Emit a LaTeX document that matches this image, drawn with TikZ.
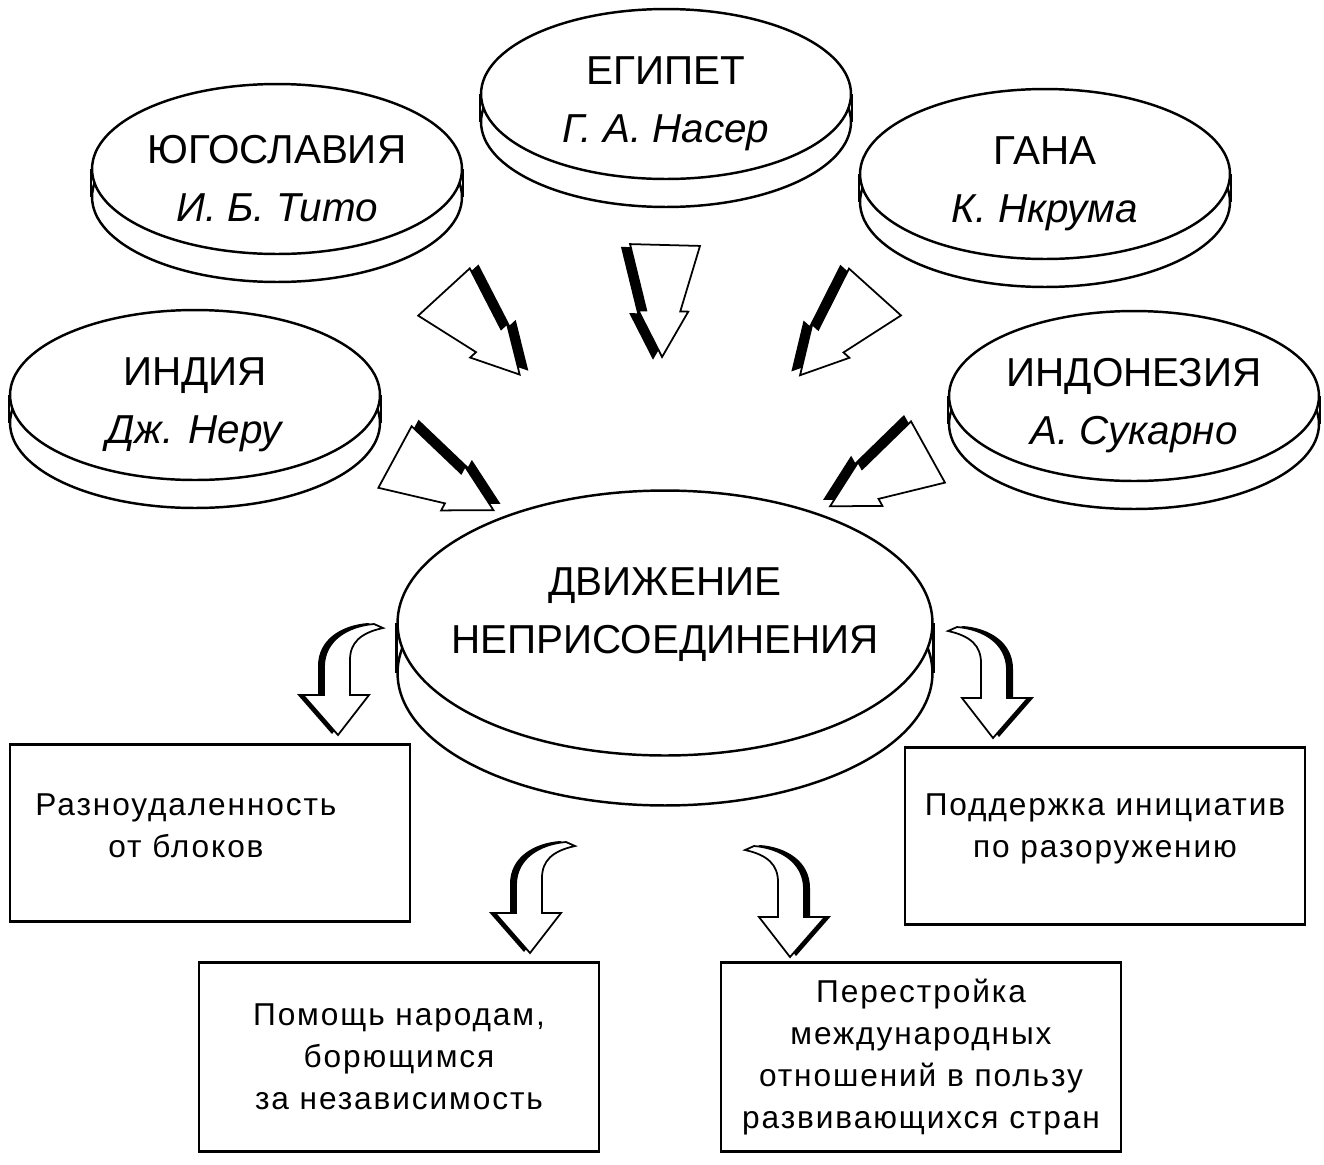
\documentclass[tikz,border=0pt]{standalone}
\usepackage{fontspec}
\setmainfont{Liberation Sans}
\newfontfamily\boxfont[LetterSpace=6]{Liberation Sans}
\usepackage{tikz}
\usetikzlibrary{shapes.geometric, shadows, calc}

\tikzset{
  discbase/.style={ellipse, draw, fill=white, line width=1.4pt, inner sep=0pt,
    align=center, font=\fontsize{23}{33}\selectfont},
  disc/.style={discbase, minimum width=7.4cm, minimum height=3.4cm,
    execute at begin node={\rule{0pt}{60pt}},
    general shadow={shadow yshift=-0.56cm, draw, fill=white, line width=1.4pt}},
  bigdisc/.style={discbase, inner xsep=-16pt, minimum width=10.7cm, minimum height=5.3cm,
    general shadow={shadow yshift=-1cm, draw, fill=white, line width=1.4pt}},
  goalbox/.style={draw, line width=1.4pt, minimum width=8cm, align=center,
    font=\boxfont\fontsize{18}{24}\selectfont},
  % straight 3D arrow, tail at origin, pointing along x
  fatarrow/.pic={
    \fill[black, shift={(3,9)}] (0,-35) -- (66,-17) -- (66,-25) -- (112,0)
      -- (66,25) -- (66,17) -- (0,35) -- cycle;
    \filldraw[fill=white, line width=1pt] (0,-35) -- (66,-17) -- (66,-25) -- (112,0)
      -- (66,25) -- (66,17) -- (0,35) -- cycle;
  },
  % curved 3D arrow, tip at origin
  bentarrow/.pic={
    \fill[black, shift={(-6,-1)}] (0,0) -- (31,-40) -- (12,-40) -- (12,-75)
      .. controls (12,-92) and (22,-102) .. (45,-107) -- (36,-111)
      .. controls (10,-109) and (-14,-95) .. (-14,-68) -- (-14,-40) -- (-35,-40) -- cycle;
    \filldraw[fill=white, line width=1pt] (0,0) -- (31,-40) -- (12,-40) -- (12,-75)
      .. controls (12,-92) and (22,-102) .. (45,-107) -- (36,-111)
      .. controls (10,-109) and (-14,-95) .. (-14,-68) -- (-14,-40) -- (-35,-40) -- cycle;
  }
}

\begin{document}
\begin{tikzpicture}[x=0.02cm, y=-0.02cm]
  \useasboundingbox[fill=white] (0,0) rectangle (1324,1164);

  % countries and leaders
  \node[disc] (egy) at (666,94) {ЕГИПЕТ\\ \textit{Г. А. Насер}};
  \node[disc] (yug) at (277,169) {ЮГОСЛАВИЯ\\ \textit{И. Б. Тито}};
  \node[disc] (gha) at (1045,174) {ГАНА\\ \textit{К. Нкрума}};
  \node[disc] (ind) at (195,395) {ИНДИЯ\\ \textit{Дж. Неру}};
  \node[disc] (ins) at (1134,396) {ИНДОНЕЗИЯ\\ \textit{А. Сукарно}};
  \foreach \d in {egy, yug, gha, ind, ins} {
    \draw[line width=1.4pt] (\d.west) -- ++(0,28);
    \draw[line width=1.4pt] (\d.east) -- ++(0,28);
  }

  % the movement
  \node[bigdisc] (nam) at (665,623) {ДВИЖЕНИЕ\\ НЕПРИСОЕДИНЕНИЯ\rule[-14pt]{0pt}{14pt}};
  \draw[line width=1.4pt] (nam.west) -- ++(0,50);
  \draw[line width=1.4pt] (nam.east) -- ++(0,50);

  % arrows into the movement
  \pic[rotate=-47.5, yscale=-1] at (444,292) {fatarrow};
  \pic[rotate=-91.5] at (665,245) {fatarrow};
  \pic[rotate=-132] at (875,292) {fatarrow};
  \pic[rotate=-28.4, yscale=-1] at (395,457) {fatarrow};
  \pic[rotate=-151] at (928,452) {fatarrow};

  % goals
  \node[goalbox, minimum height=3.54cm, execute at end node={\kern0.96cm\rule[-8pt]{0pt}{8pt}}]
    (g1) at (210,833) {Разноудаленность\\от блоков};
  \node[goalbox, minimum height=3.54cm, execute at end node={\rule[-12pt]{0pt}{12pt}}]
    (g2) at (1105,836) {Поддержка инициатив\\по разоружению};
  \node[goalbox, minimum height=3.78cm] (g3) at (399,1057) {Помощь народам,\\борющимся\\за независимость};
  \node[goalbox, minimum height=3.78cm] (g4) at (921,1057) {Перестройка\\международных\\отношений в пользу\\развивающихся стран};

  % arrows out of the movement
  \pic at (338,735) {bentarrow};
  \pic[xscale=-1] at (993,738) {bentarrow};
  \pic at (530,953) {bentarrow};
  \pic[xscale=-1] at (790,957) {bentarrow};
\end{tikzpicture}
\end{document}
